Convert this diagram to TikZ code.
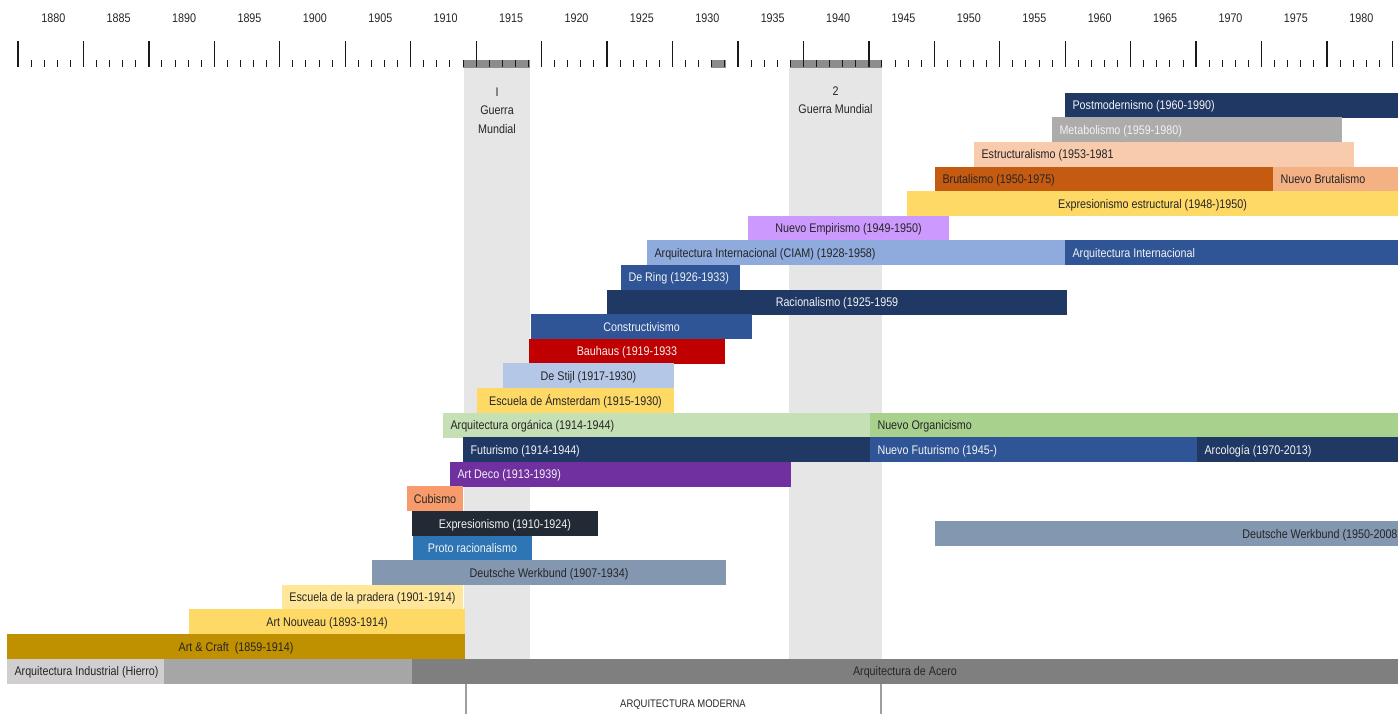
\documentclass[tikz,border=0pt]{standalone}
\usepackage{fontspec}
\setmainfont{Liberation Sans}[FakeStretch=0.86]
\definecolor{navy}{HTML}{203864}
\definecolor{metagray}{HTML}{AEABAB}
\definecolor{peach}{HTML}{F8CBAD}
\definecolor{brutal}{HTML}{C55A11}
\definecolor{nbrut}{HTML}{F4B183}
\definecolor{yel}{HTML}{FFD966}
\definecolor{lilac}{HTML}{CC99FF}
\definecolor{ciam}{HTML}{8FAADC}
\definecolor{blu}{HTML}{2F5597}
\definecolor{rd}{HTML}{C00000}
\definecolor{ltblue}{HTML}{B4C7E7}
\definecolor{ltgreen}{HTML}{C5E0B4}
\definecolor{grn}{HTML}{A9D18E}
\definecolor{purp}{HTML}{7030A0}
\definecolor{salmon}{HTML}{F89B6C}
\definecolor{dark2}{HTML}{222A35}
\definecolor{medblue}{HTML}{2E75B6}
\definecolor{werk}{HTML}{8497B0}
\definecolor{ltyel}{HTML}{FFE699}
\definecolor{gold}{HTML}{BF9000}
\definecolor{ltgray}{HTML}{D0CECE}
\definecolor{midgray}{HTML}{A6A6A6}
\definecolor{acero}{HTML}{7F7F7F}
\definecolor{wwcol}{HTML}{E6E6E6}
\definecolor{tlgray}{HTML}{8C8C8C}
\definecolor{dtxt}{HTML}{262626}
\definecolor{ltxt}{HTML}{F2F2F2}
\definecolor{tick}{HTML}{1A1A1A}
\tikzset{
  barbox/.style={anchor=west, outer sep=0pt, inner xsep=7.5pt, inner ysep=0pt,
    minimum height=24.9pt, text height=9pt, text depth=0pt,
    font=\fontsize{12.5pt}{15pt}\selectfont},
  yrlabel/.style={inner sep=0pt, text height=9pt, text depth=0pt, text=dtxt,
    font=\fontsize{12.5pt}{15pt}\selectfont},
  warlabel/.style={inner sep=0pt, anchor=north, align=center, text=dtxt,
    font=\fontsize{12.5pt}{18.5pt}\selectfont},
  majortick/.style={draw=tick, line width=1.3pt},
  minortick/.style={draw=tick, line width=1pt},
  bracketline/.style={draw=tlgray!85, line width=2pt},
}
\newcommand\tlbar[8]{%
  \pgfmathsetmacro\bw{#3-#2}\pgfmathsetmacro\tw{#3-#2-15}%
  \node[barbox, fill=#5, text=#6, minimum width=\bw pt] (#1) at (#2,#4) {\makebox[\tw pt][#7]{#8}};}
\begin{document}
\begin{tikzpicture}[x=1pt,y=-1pt]
\useasboundingbox (0,0) rectangle (1398,714);
% war columns
\fill[wwcol] (464,68) rectangle (530,660);
\fill[wwcol] (789,68) rectangle (882,660);
% timeline gray bands
\fill[tlgray] (463,60) rectangle (530,68.5);
\fill[tlgray] (711,60) rectangle (726,68.5);
\fill[tlgray] (790,60) rectangle (882,68.5);
% ticks
\foreach \k in {0,...,21} \draw[majortick] ({18+65.45*\k},41) -- ({18+65.45*\k},67);
\foreach \k in {0,...,20} \foreach \j in {1,...,4} \draw[minortick] ({18+65.45*\k+13.09*\j},60) -- ({18+65.45*\k+13.09*\j},67);
% year labels
\foreach \k in {0,...,20} {\pgfmathtruncatemacro\yr{1880+5*\k}
  \node[yrlabel] (yr\yr) at ({53.3+65.4*\k},18.3) {\yr};}
% war labels
\node[warlabel] (ww1) at (497,87.5) {I\\Guerra\\Mundial};
\node[warlabel] (ww2) at (835.5,86.5) {2\\Guerra Mundial};
% bars
\tlbar{pm}{1065}{1398}{105.3}{navy}{ltxt}{l}{Postmodernismo (1960-1990)}
\tlbar{meta}{1052}{1342}{129.9}{metagray}{ltxt}{l}{Metabolismo (1959-1980)}
\tlbar{estr}{974}{1354}{154.5}{peach}{dtxt}{l}{Estructuralismo (1953-1981}
\tlbar{brut}{935}{1273}{179.1}{brutal}{dtxt}{l}{Brutalismo (1950-1975)}
\tlbar{nbrut}{1273}{1398}{179.1}{nbrut}{dtxt}{l}{Nuevo Brutalismo}
\tlbar{expe}{907}{1398}{203.7}{yel}{dtxt}{c}{Expresionismo estructural (1948-)1950)}
\tlbar{nemp}{748}{949}{228.3}{lilac}{dtxt}{c}{Nuevo Empirismo (1949-1950)}
\tlbar{ciamb}{647}{1065}{252.9}{ciam}{dtxt}{l}{Arquitectura Internacional (CIAM) (1928-1958)}
\tlbar{aint}{1065}{1398}{252.9}{blu}{ltxt}{l}{Arquitectura Internacional}
\tlbar{dering}{621}{740}{277.5}{blu}{ltxt}{l}{De Ring (1926-1933)}
\tlbar{rac}{607}{1067}{302.1}{navy}{ltxt}{c}{Racionalismo (1925-1959}
\tlbar{cons}{531}{752}{326.7}{blu}{ltxt}{c}{Constructivismo}
\tlbar{bau}{529}{725}{351.3}{rd}{ltxt}{c}{Bauhaus (1919-1933}
\tlbar{stijl}{503}{674}{375.9}{ltblue}{dtxt}{c}{De Stijl (1917-1930)}
\tlbar{ams}{477}{674}{400.5}{yel}{dtxt}{c}{Escuela de Ámsterdam (1915-1930)}
\tlbar{org}{443}{870}{425.1}{ltgreen}{dtxt}{l}{Arquitectura orgánica (1914-1944)}
\tlbar{norg}{870}{1398}{425.1}{grn}{dtxt}{l}{Nuevo Organicismo}
\tlbar{fut}{463}{870}{449.7}{navy}{ltxt}{l}{Futurismo (1914-1944)}
\tlbar{nfut}{870}{1197}{449.7}{blu}{ltxt}{l}{Nuevo Futurismo (1945-)}
\tlbar{arco}{1197}{1398}{449.7}{navy}{ltxt}{l}{Arcología (1970-2013)}
\tlbar{deco}{450}{791}{474.3}{purp}{ltxt}{l}{Art Deco (1913-1939)}
\tlbar{cub}{407}{463}{498.9}{salmon}{dtxt}{c}{Cubismo}
\tlbar{expr}{412}{598}{523.5}{dark2}{ltxt}{c}{Expresionismo (1910-1924)}
\tlbar{dwr}{935}{1398}{533.5}{werk}{dtxt}{r}{Deutsche Werkbund (1950-2008\hspace*{-7pt}}
\tlbar{proto}{413}{532}{548.1}{medblue}{ltxt}{c}{Proto racionalismo}
\tlbar{dw}{372}{726}{572.7}{werk}{dtxt}{c}{Deutsche Werkbund (1907-1934)}
\tlbar{prad}{282}{463}{597.3}{ltyel}{dtxt}{c}{Escuela de la pradera (1901-1914)}
\tlbar{nouv}{189}{465}{621.9}{yel}{dtxt}{c}{Art Nouveau (1893-1914)}
\tlbar{craft}{7}{465}{646.5}{gold}{dtxt}{c}{Art \& Craft\ \ (1859-1914)}
\tlbar{ind}{7}{164}{671.1}{ltgray}{dtxt}{l}{Arquitectura Industrial (Hierro)}
\tlbar{hier}{164}{412}{671.1}{midgray}{dtxt}{c}{}
\tlbar{acer}{412}{1398}{671.1}{acero}{dtxt}{c}{Arquitectura de Acero}
% bottom bracket
\coordinate (bl) at (465.5,684);
\coordinate (br) at (880.5,684);
\draw[bracketline] (bl) -- ++(0,30);
\draw[bracketline] (br) -- ++(0,30);
\node[yrlabel, font=\fontsize{11pt}{13pt}\selectfont, text height=8pt] (moderna) at (683,703.5) {ARQUITECTURA MODERNA};
\end{tikzpicture}
\end{document}
